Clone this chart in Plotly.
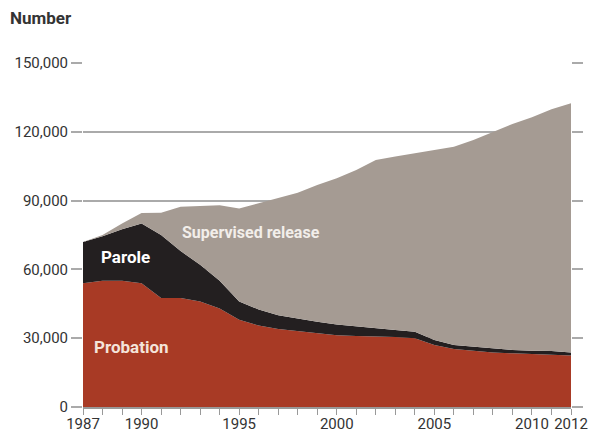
import plotly.graph_objects as go

years = list(range(1987, 2013))
probation = [54000, 55000, 55000, 54000, 47500, 47500, 46000, 43000, 38000, 35500,
             34000, 33000, 32000, 31300, 31000, 30800, 30500, 30000, 27000, 25300,
             24500, 23800, 23400, 23100, 22800, 22500]
parole = [18000, 19500, 22500, 26000, 27500, 20500, 16000, 12000, 8000, 7000,
          6000, 5500, 5200, 4700, 4300, 3800, 3100, 2800, 2200, 1700,
          1800, 1500, 1500, 1400, 1600, 1300]
supervised = [0, 500, 2500, 4600, 9700, 19300, 25600, 33000, 40600, 46300,
              51000, 54900, 59600, 63700, 68000, 73100, 75600, 77800, 82800, 86500,
              90100, 94700, 98500, 101800, 105400, 108600]

series_names = ["Probation", "Parole", "Supervised release"]
colors = ["#A83A25", "#231F20", "#A59B93"]

ytick_vals = [0, 30000, 60000, 90000, 120000, 150000]
ytick_text = ["0", "30,000", "60,000", "90,000", "120,000", "150,000"]
xtick_labels = {1987: "1987", 1990: "1990", 1995: "1995", 2000: "2000",
                2005: "2005", 2010: "2010", 2012: "2012"}

FONT = "Roboto, Liberation Sans, sans-serif"

fig = go.Figure()
for name, vals, col in zip(series_names, [probation, parole, supervised], colors):
    fig.add_trace(go.Scatter(
        x=years, y=vals, name=name, mode="lines", stackgroup="one",
        line=dict(width=0, color=col), fillcolor=col, hoverinfo="x+y+name",
    ))

fig.update_layout(
    width=590, height=434,
    margin=dict(l=83, r=19, t=63, b=27, autoexpand=False),
    paper_bgcolor="white", plot_bgcolor="white",
    showlegend=False,
    font=dict(family=FONT, size=15, color="#333333"),
    xaxis=dict(
        range=[1987, 2012], tickvals=years,
        ticktext=[xtick_labels.get(y, "") for y in years],
        tickangle=0, ticklabelstandoff=-4,
        ticks="outside", ticklen=6, tickwidth=1, tickcolor="#999999",
        showgrid=False, zeroline=False, showline=True, linecolor="#999999",
        linewidth=2, tickfont=dict(size=15, color="#333333"), fixedrange=True,
    ),
    yaxis=dict(
        range=[0, 150000], tickvals=ytick_vals, ticktext=ytick_text,
        ticks="outside", ticklen=11, tickwidth=2, tickcolor="#aaaaaa",
        mirror="ticks", showline=False,
        showgrid=True, gridcolor="#aaaaaa", gridwidth=2, zeroline=False,
        tickfont=dict(size=15, color="#333333"), fixedrange=True,
    ),
    annotations=[
        dict(text="<b>Number</b>", xref="paper", yref="paper", x=-0.154, y=1.131,
             xanchor="left", yanchor="middle", showarrow=False,
             font=dict(size=17, color="#333333")),
        dict(text="<b>Probation</b>", x=1989.5, y=26200, xref="x", yref="y",
             showarrow=False, font=dict(size=17, color="#f4e4da")),
        dict(text="<b>Parole</b>", x=1989.2, y=65200, xref="x", yref="y",
             showarrow=False, font=dict(size=17, color="#ffffff")),
        dict(text="<b>Supervised release</b>", x=1995.6, y=76000, xref="x", yref="y",
             showarrow=False, font=dict(size=16, color="#f2eeea")),
    ],
)

fig.write_html(
    "out.html",
    config={"displayModeBar": False, "staticPlot": True},
    post_script="document.body.style.margin='0';document.body.style.overflow='hidden';",
)
